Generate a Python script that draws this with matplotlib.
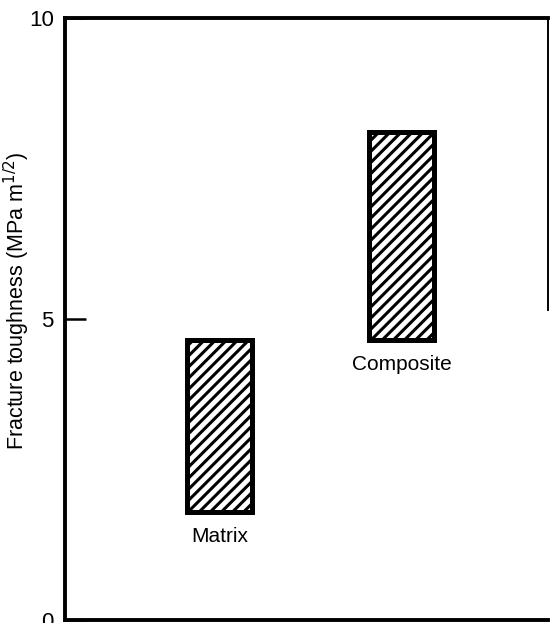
import matplotlib.pyplot as plt

plt.rcParams['font.family'] = ['Liberation Sans', 'DejaVu Sans']
plt.rcParams['hatch.linewidth'] = 2.2

materials = ['Matrix', 'Composite']
toughness_low = [1.8, 4.65]
toughness_high = [4.65, 8.1]

fig = plt.figure(figsize=(5.51, 6.23), dpi=100)
ax = fig.add_axes([0.118, 0.005, 0.877, 0.966])

positions = [1, 2]
heights = [hi - lo for lo, hi in zip(toughness_low, toughness_high)]
ax.bar(positions, heights, bottom=toughness_low, width=0.357,
       facecolor='white', edgecolor='black', linewidth=3.6, hatch='///')

for x, lo, name in zip(positions, toughness_low, materials):
    ax.annotate(name, (x, lo), xytext=(0, -11), textcoords='offset points',
                ha='center', va='top', fontsize=15)

ax.set_xlim(0.151, 2.805)
ax.set_ylim(0, 10)
ax.set_xticks([])
ax.set_yticks([0, 5, 10])
ax.tick_params(axis='y', direction='in', length=15, width=1.8, pad=8, labelsize=16)

for side in ['left', 'bottom', 'top']:
    ax.spines[side].set_linewidth(2.8)
ax.spines['right'].set_linewidth(1.4)
ax.spines['right'].set_bounds(5.15, 10)

ax.set_ylabel('Fracture toughness (MPa m$^{1/2}$)', fontsize=15.5)
ax.yaxis.set_label_coords(-0.068, 0.53)

fig.savefig('out.png', dpi=100)
